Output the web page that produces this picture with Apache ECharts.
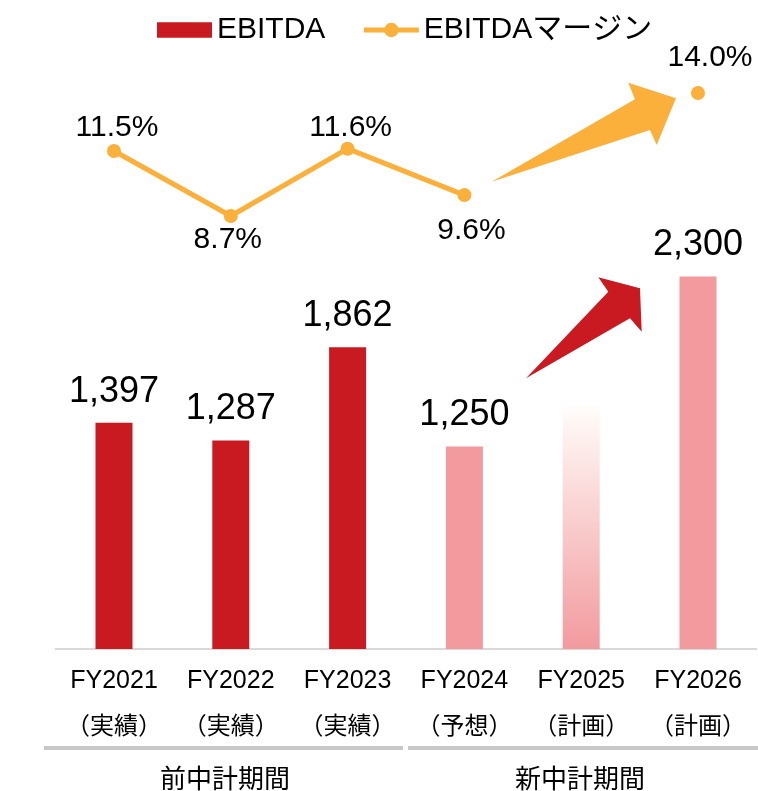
<!DOCTYPE html>
<html lang="ja">
<head>
    <meta charset="UTF-8">
    <title>EBITDA</title>
    <style>
        body { margin: 0; background: #fff; }
        #main { width: 758px; height: 791px; }
    </style>
</head>
<body>
<div id="main"></div>
<script src="https://cdn.jsdelivr.net/npm/echarts@6/dist/echarts.min.js"></script>
<script>
    // データ
    var categories = ['FY2021', 'FY2022', 'FY2023', 'FY2024', 'FY2025', 'FY2026'];
    var subLabels = ['（実績）', '（実績）', '（実績）', '（予想）', '（計画）', '（計画）'];
    var ebitda = [1397, 1287, 1862, 1250, 1500, 2300];
    var ebitdaMargin = [11.5, 8.7, 11.6, 9.6, null, 14.0];
    var periods = ['前中計期間', '新中計期間'];

    var RED = '#C91A21';
    var PINK = '#F29A9E';
    var ORANGE = '#FBB03B';
    var FONT = '"Liberation Sans", Arial, "Noto Sans CJK JP", sans-serif';
    var JP = '"Noto Sans CJK JP", sans-serif';

    // 棒の色: 実績=赤, 予想/計画=ピンク, FY2025はグラデーション
    var barData = ebitda.map(function (v, i) {
        var item = { value: v };
        if (i < 3) {
            item.itemStyle = { color: RED };
        } else if (i === 4) {
            item.itemStyle = {
                color: new echarts.graphic.LinearGradient(0, 0, 0, 1, [
                    { offset: 0, color: 'rgba(255,253,250,1)' },
                    { offset: 1, color: PINK }
                ])
            };
            item.label = { show: false };
        } else {
            item.itemStyle = { color: PINK };
        }
        return item;
    });

    // マージンのラベル位置（上/下と微調整）
    var labelPos = [
        { position: 'top', distance: 1, offset: [3, 0] },
        { position: 'bottom', distance: 2, offset: [-3, 0] },
        { position: 'top', distance: -1, offset: [3, 0] },
        { position: 'bottom', distance: 14, offset: [7, 0] },
        null,
        { position: 'top', distance: 13, offset: [12, 0] }
    ];
    var lineData = ebitdaMargin.map(function (v, i) {
        if (v === null) return null;
        return { value: v, label: labelPos[i] };
    });

    var myChart = echarts.init(document.getElementById('main'));
    myChart.setOption({
        animation: false,
        backgroundColor: '#fff',
        legend: {
            left: 152,
            top: 10,
            itemWidth: 55,
            itemHeight: 18,
            itemGap: 36,
            textStyle: { fontSize: 30, color: '#000', fontFamily: FONT },
            data: [
                { name: 'EBITDA', icon: 'path://M0,0h53v15h-53z', symbolKeepAspect: true },
                { name: 'EBITDAマージン', lineStyle: { width: 5, color: ORANGE } }
            ]
        },
        grid: [
            { left: 55.6, right: 1.6, top: 163, bottom: 142 },
            { left: 55.6, right: 1.6, top: 46.6, bottom: 512.4 }
        ],
        xAxis: [
            {
                type: 'category',
                gridIndex: 0,
                data: categories,
                axisTick: { show: false },
                axisLine: { lineStyle: { color: '#d9d9d9', width: 2 } },
                axisLabel: {
                    margin: 11,
                    interval: 0,
                    formatter: function (value, idx) {
                        return '{a|' + value + '}\n{b|' + subLabels[idx] + '}';
                    },
                    rich: {
                        a: { fontSize: 25, lineHeight: 43, color: '#000', fontFamily: FONT },
                        b: { fontSize: 24, lineHeight: 43, color: '#000', fontFamily: JP }
                    }
                }
            },
            {
                type: 'category',
                gridIndex: 1,
                data: categories,
                show: false
            }
        ],
        yAxis: [
            { type: 'value', gridIndex: 0, min: 0, max: 3000, show: false },
            { type: 'value', gridIndex: 1, min: 6, max: 16, show: false }
        ],
        series: [
            {
                name: 'EBITDA',
                type: 'bar',
                xAxisIndex: 0,
                yAxisIndex: 0,
                barWidth: 37,
                itemStyle: { color: RED },
                label: {
                    show: true,
                    position: 'top',
                    distance: 13,
                    fontSize: 36,
                    color: '#000',
                    fontFamily: FONT,
                    formatter: function (p) { return p.value.toLocaleString('en-US'); }
                },
                data: barData
            },
            {
                name: 'EBITDAマージン',
                type: 'line',
                xAxisIndex: 1,
                yAxisIndex: 1,
                symbol: 'circle',
                symbolSize: 14,
                connectNulls: false,
                clip: false,
                lineStyle: { color: ORANGE, width: 5 },
                itemStyle: { color: ORANGE },
                label: {
                    show: true,
                    fontSize: 30,
                    color: '#000',
                    fontFamily: FONT,
                    formatter: function (p) { return p.value.toFixed(1) + '%'; }
                },
                data: lineData
            }
        ],
        graphic: [
            // オレンジ矢印
            {
                type: 'polygon',
                shape: { points: [[491.7, 181.7], [635, 99.3], [628.3, 82.7], [676, 98.3], [656.7, 145], [650, 130]] },
                style: { fill: ORANGE }
            },
            // 赤矢印
            {
                type: 'polygon',
                shape: { points: [[526, 378.3], [608.3, 291.7], [598.3, 277.3], [640, 288.3], [641.7, 331.7], [630, 318.3]] },
                style: { fill: RED }
            },
            // 期間の区切り線
            { type: 'rect', shape: { x: 44, y: 746, width: 359, height: 4 }, style: { fill: '#c8c8c8' } },
            { type: 'rect', shape: { x: 408, y: 746, width: 350, height: 4 }, style: { fill: '#c8c8c8' } },
            {
                type: 'text', x: 225, y: 778,
                style: { text: periods[0], fontSize: 26, fontFamily: JP, fill: '#000', align: 'center', verticalAlign: 'middle' }
            },
            {
                type: 'text', x: 580, y: 778,
                style: { text: periods[1], fontSize: 26, fontFamily: JP, fill: '#000', align: 'center', verticalAlign: 'middle' }
            }
        ]
    });
</script>
</body>
</html>
